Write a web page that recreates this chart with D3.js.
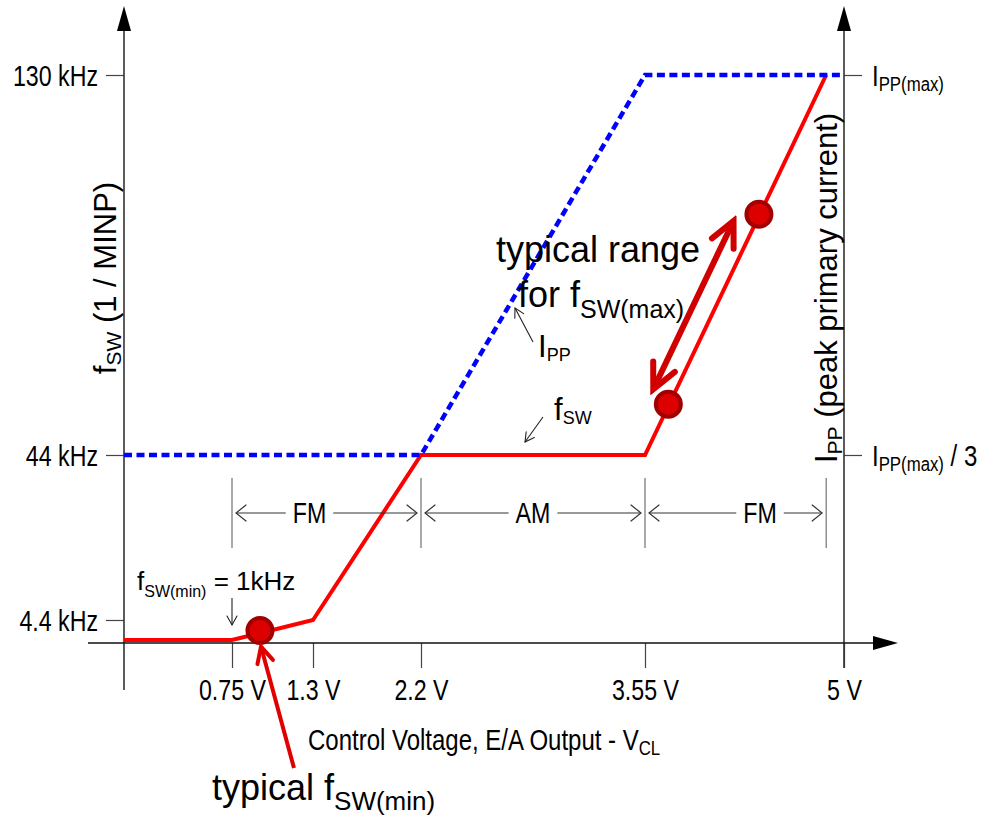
<!DOCTYPE html>
<html>
<head>
<meta charset="utf-8">
<script src="https://cdn.jsdelivr.net/npm/d3@7"></script>
<style>
  body { margin: 0; background: #fff; }
  svg { display: block; }
  .narrow { font-family: 'Liberation Sans', Arial, sans-serif; }
  .sans { font-family: 'Liberation Sans', Arial, sans-serif; }
</style>
</head>
<body>
<div class="container"></div>
<script>
// values
var voltTicks = [0.75, 1.3, 2.2, 3.55, 5];
var voltLabels = ['0.75 V', '1.3 V', '2.2 V', '3.55 V', '5 V'];
var freqTicks = [4.4, 44, 130];
var freqLabels = ['4.4 kHz', '44 kHz', '130 kHz'];
var ippTicks = [130, 44];
var ippSuffix = ['', ' / 3'];

// fsw curve (red) and Ipp curve (blue, drawn on the same vertical scale)
var fswV = [0, 0.75, 1.3, 2.2, 3.55, 4.87];
var fswKHz = [1, 1, 4.4, 44, 44, 130];
var ippV = [0, 2.2, 3.55, 5];
var ippLevel = [44, 44, 130, 130];

// marked points on the fsw curve
var dotV = [0.94, 3.72, 4.38];
var dotKHz = [2.6, 55.5, 98.5];

var regionNames = ['FM', 'AM', 'FM'];
var regionEdges = [0.75, 2.2, 3.55, 4.87];

var width = 982, height = 817;
var labelFrac = [0.41, 0.5, 0.635];
var squeeze = 0.8; // no narrow font installed, so condense by hand

var svg = d3.select('.container').append('svg')
  .attr('width', width)
  .attr('height', height);

var x = d3.scaleLinear()
  .domain([0].concat(voltTicks))
  .range([124, 232, 313, 421, 645, 844]);

var y = d3.scaleLinear()
  .domain([0, 1].concat(freqTicks))
  .range([643, 640, 620, 455, 75]);

var axisColor = '#333';
var tickColor = '#444';

function narrow(sel) {
  sel.each(function () {
    var px = +this.getAttribute('x') || 0;
    d3.select(this).attr('transform',
      'translate(' + px + ',0) scale(' + squeeze + ',1) translate(' + (-px) + ',0)');
  });
  return sel;
}

// markers
var defs = svg.append('defs');
function chevron(id, len, half, color, sw) {
  defs.append('marker')
    .attr('id', id)
    .attr('markerUnits', 'userSpaceOnUse')
    .attr('viewBox', (-len - sw) + ' ' + (-half - sw) + ' ' + (len + 2 * sw) + ' ' + (2 * half + 2 * sw))
    .attr('markerWidth', len + 2 * sw)
    .attr('markerHeight', 2 * half + 2 * sw)
    .attr('refX', 0)
    .attr('refY', 0)
    .attr('orient', 'auto-start-reverse')
    .append('path')
    .attr('d', 'M' + (-len) + ',' + (-half) + ' L0,0 L' + (-len) + ',' + half)
    .attr('fill', 'none')
    .attr('stroke', color)
    .attr('stroke-width', sw)
    .attr('stroke-linecap', 'round')
    .attr('stroke-linejoin', 'miter');
}
chevron('open', 10, 8, '#333', 1.2);
chevron('small', 9, 5, '#222', 1.1);
chevron('red', 25, 12, '#d00000', 6);
chevron('redthin', 16, 8, '#e00000', 4);

function richText(parent, px, py, parts, size, subSize, shift, cls, anchor) {
  var t = parent.append('text')
    .attr('x', px)
    .attr('y', py)
    .attr('class', cls)
    .attr('font-size', size)
    .attr('fill', '#000')
    .attr('text-anchor', anchor || 'start');
  var cur = 0;
  parts.forEach(function (p) {
    var want = p[1] ? shift : 0;
    t.append('tspan')
      .attr('dy', want - cur)
      .attr('font-size', p[1] ? subSize : size)
      .text(p[0]);
    cur = want;
  });
  if (cls === 'narrow') narrow(t);
  return t;
}

// left axis ticks
var gy = svg.append('g')
  .attr('transform', 'translate(' + x(0) + ',0)')
  .call(d3.axisLeft(y).tickValues(freqTicks).tickSize(18).tickPadding(8)
    .tickFormat(function (d, i) { return freqLabels[i]; }));
gy.attr('font-family', null);
gy.select('.domain').remove();
gy.selectAll('line').attr('stroke', tickColor).attr('stroke-width', 1.2);
narrow(gy.selectAll('text')
  .attr('class', 'narrow')
  .attr('font-size', 29)
  .attr('fill', '#000')
  .attr('dy', '0.36em'));

// bottom axis ticks
var gx = svg.append('g')
  .attr('transform', 'translate(0,' + y(0) + ')')
  .call(d3.axisBottom(x).tickValues(voltTicks).tickSize(25)
    .tickFormat(function (d, i) { return voltLabels[i]; }));
gx.attr('font-family', null);
gx.select('.domain').remove();
gx.selectAll('line').attr('stroke', tickColor).attr('stroke-width', 1.2);
narrow(gx.selectAll('text')
  .attr('class', 'narrow')
  .attr('font-size', 29)
  .attr('fill', '#000')
  .attr('y', 57)
  .attr('dy', 0));

// right axis ticks
var gr = svg.append('g')
  .attr('transform', 'translate(' + x(5) + ',0)')
  .call(d3.axisRight(y).tickValues(ippTicks).tickSize(18).tickFormat(''));
gr.attr('font-family', null);
gr.select('.domain').remove();
gr.selectAll('line').attr('stroke', tickColor).attr('stroke-width', 1.2);
gr.selectAll('text').remove();
ippTicks.forEach(function (d, i) {
  richText(svg, x(5) + 28, y(d) + 11,
    [['I', 0], ['PP(max)', 1], [ippSuffix[i], 0]], 30, 21, 5, 'narrow');
});

// axis lines with arrow heads
function tri(tx, ty, dir) {
  var L = 25, H = 7, p;
  if (dir === 'up') p = [[tx, ty], [tx - H, ty + L], [tx + H, ty + L]];
  else p = [[tx, ty], [tx - L, ty - H], [tx - L, ty + H]];
  svg.append('path').attr('d', 'M' + p.join('L') + 'Z').attr('fill', '#000');
}
svg.append('line')
  .attr('x1', x(0)).attr('x2', x(0)).attr('y1', 690).attr('y2', 20)
  .attr('stroke', axisColor).attr('stroke-width', 1.6);
tri(x(0), 6, 'up');
svg.append('line')
  .attr('x1', x(5)).attr('x2', x(5)).attr('y1', y(0) + 25).attr('y2', 20)
  .attr('stroke', axisColor).attr('stroke-width', 1.6);
tri(x(5), 6, 'up');
svg.append('line')
  .attr('x1', 88).attr('x2', 885).attr('y1', y(0)).attr('y2', y(0))
  .attr('stroke', '#111').attr('stroke-width', 1.6);
tri(898, y(0), 'right');

// curves
var line = d3.line()
  .x(function (d) { return x(d[0]); })
  .y(function (d) { return y(d[1]); });

svg.append('path')
  .datum(d3.zip(fswV, fswKHz))
  .attr('d', line)
  .attr('fill', 'none')
  .attr('stroke', '#ff0000')
  .attr('stroke-width', 4);

svg.append('path')
  .datum(d3.zip(ippV, ippLevel))
  .attr('d', line)
  .attr('fill', 'none')
  .attr('stroke', '#0000ff')
  .attr('stroke-width', 4.5)
  .attr('stroke-dasharray', '8,4.5');

// region markers
var regY = 513;
regionEdges.forEach(function (v) {
  svg.append('line')
    .attr('x1', x(v)).attr('x2', x(v))
    .attr('y1', regY - 35).attr('y2', regY + 35)
    .attr('stroke', '#555').attr('stroke-width', 1);
});
regionNames.forEach(function (name, i) {
  var a = x(regionEdges[i]), b = x(regionEdges[i + 1]);
  var cx = a + (b - a) * labelFrac[i];
  var t = svg.append('text')
    .attr('class', 'narrow')
    .attr('font-size', 29)
    .attr('x', cx)
    .attr('y', regY + 10)
    .attr('text-anchor', 'middle')
    .text(name);
  var w = t.node().getComputedTextLength() * squeeze;
  narrow(t);
  svg.append('line')
    .attr('x1', cx - w / 2 - 7).attr('x2', a + 4)
    .attr('y1', regY).attr('y2', regY)
    .attr('stroke', '#333').attr('stroke-width', 1.2)
    .attr('marker-end', 'url(#open)');
  svg.append('line')
    .attr('x1', cx + w / 2 + 7).attr('x2', b - 4)
    .attr('y1', regY).attr('y2', regY)
    .attr('stroke', '#333').attr('stroke-width', 1.2)
    .attr('marker-end', 'url(#open)');
});

// dots
svg.selectAll('circle.dot')
  .data(d3.zip(dotV, dotKHz))
  .enter()
  .append('circle')
  .attr('class', 'dot')
  .attr('cx', function (d) { return x(d[0]); })
  .attr('cy', function (d) { return y(d[1]); })
  .attr('r', 12.5)
  .attr('fill', '#dd0000')
  .attr('stroke', '#a00000')
  .attr('stroke-width', 4);

// typical range arrow, parallel to the curve between dots 2 and 3
var p2 = [x(dotV[1]), y(dotKHz[1])], p3 = [x(dotV[2]), y(dotKHz[2])];
var ddx = p3[0] - p2[0], ddy = p3[1] - p2[1], len = Math.hypot(ddx, ddy);
var ux = ddx / len, uy = ddy / len, nx = uy, ny = -ux, off = 20;
svg.append('line')
  .attr('x1', p2[0] + nx * off + ux * 7)
  .attr('y1', p2[1] + ny * off + uy * 7)
  .attr('x2', p3[0] + nx * off - ux * 17)
  .attr('y2', p3[1] + ny * off - uy * 17)
  .attr('stroke', '#d00000')
  .attr('stroke-width', 6)
  .attr('marker-start', 'url(#red)')
  .attr('marker-end', 'url(#red)');

// typical fsw(min) arrow
var p1 = [x(dotV[0]), y(dotKHz[0])];
svg.append('line')
  .attr('x1', p1[0] + 34).attr('y1', 768)
  .attr('x2', p1[0] + 1).attr('y2', p1[1] + 16)
  .attr('stroke', '#e00000')
  .attr('stroke-width', 4)
  .attr('marker-end', 'url(#redthin)');

// small leader arrows
svg.append('line')
  .attr('x1', 533).attr('y1', 342).attr('x2', 515).attr('y2', 308)
  .attr('stroke', '#222').attr('stroke-width', 1.1)
  .attr('marker-end', 'url(#small)');
svg.append('line')
  .attr('x1', 543).attr('y1', 417).attr('x2', 525).attr('y2', 442)
  .attr('stroke', '#222').attr('stroke-width', 1.1)
  .attr('marker-end', 'url(#small)');
svg.append('line')
  .attr('x1', x(0.75)).attr('y1', 598).attr('x2', x(0.75)).attr('y2', 625)
  .attr('stroke', '#222').attr('stroke-width', 1.1)
  .attr('marker-end', 'url(#small)');

// texts
richText(svg, 538, 357, [['I', 0], ['PP', 1]], 31, 18, 4, 'sans');
richText(svg, 554, 420, [['f', 0], ['SW', 1]], 31, 18, 4, 'sans');
richText(svg, 137, 590, [['f', 0], ['SW(min)', 1], [' = 1kHz', 0]], 26, 16, 7, 'sans');
svg.append('text').attr('class', 'sans').attr('font-size', 36)
  .attr('x', 496).attr('y', 262).text('typical range');
richText(svg, 518, 307, [['for f', 0], ['SW(max)', 1]], 36, 25, 11, 'sans');
richText(svg, 212, 800, [['typical f', 0], ['SW(min)', 1]], 36, 26, 10, 'sans');
richText(svg, 308, 750, [['Control Voltage, E/A Output - V', 0], ['CL', 1]], 30, 21, 5, 'narrow');

richText(svg, 0, 0, [['f', 0], ['SW', 1], [' (1 / MINP)', 0]], 31, 21, 5, 'sans', 'middle')
  .attr('transform', 'translate(116,278) rotate(-90)');
richText(svg, 0, 0, [['I', 0], ['PP', 1], [' (peak primary current)', 0]], 31, 21, 5, 'sans', 'middle')
  .attr('transform', 'translate(837,288) rotate(-90)');
</script>
</body>
</html>
